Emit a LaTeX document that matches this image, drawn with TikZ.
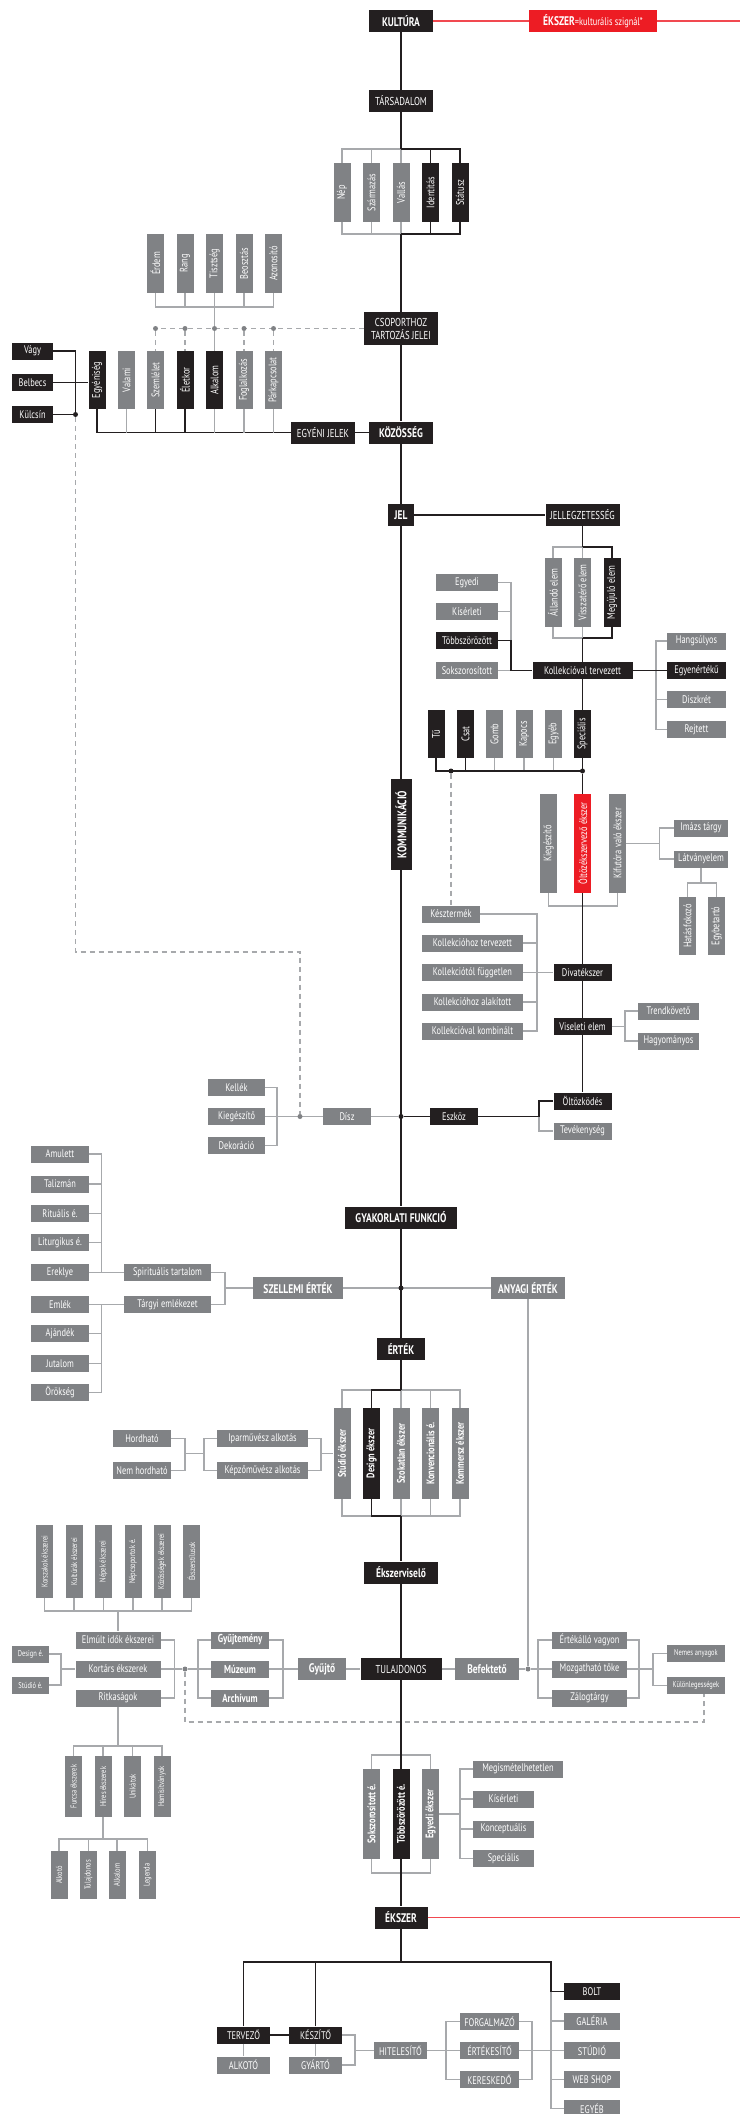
\documentclass[tikz,border=0pt]{standalone}
\usepackage{fontspec}
\setmainfont[FakeStretch=0.76]{PT Sans}
\usepackage{graphicx}

\definecolor{ink}{HTML}{231F20}
\definecolor{boxgray}{HTML}{808285}
\definecolor{linegray}{HTML}{A7A9AC}
\definecolor{signred}{HTML}{ED1C24}

\tikzset{
  box/.style={inner sep=0pt, minimum height=17pt, text=white, font=\fontsize{11}{12}\selectfont},
  blk/.style={box, fill=ink},
  gry/.style={box, fill=boxgray},
  hdr/.style={box, fill=ink, minimum height=22pt, font=\bfseries\fontsize{12.5}{13}\selectfont},
  ghdr/.style={hdr, fill=boxgray},
  capbox/.style={box, fill=ink, minimum height=22pt, font=\fontsize{11.5}{13}\selectfont},
  vbox/.style={box, minimum width=17pt},
  small/.style={font=\fontsize{8.5}{9}\selectfont},
  ln/.style={draw=ink, line width=1.8pt},
  gln/.style={draw=linegray, line width=1.2pt},
  dln/.style={gln, dash pattern=on 5pt off 4pt},
  rln/.style={draw=signred!80, line width=1.4pt},
  dot/.style={circle, inner sep=0pt, minimum size=5pt}
}
\newcommand{\vt}[1]{\rotatebox{90}{#1}}

\begin{document}
\begin{tikzpicture}[x=1pt,y=-1pt]
\useasboundingbox (0,0) rectangle (740,2114);

% main column
\node[hdr, minimum width=64pt] (kultura) at (401,21) {KULTÚRA};
\node[box, fill=signred, minimum width=128pt, minimum height=22pt, font=\fontsize{11}{12}\selectfont] (szignal) at (593,21) {{\bfseries\fontsize{12.5}{13}\selectfont ÉKSZER}=kulturális szignál*};
\coordinate (redR) at (740,21);
\node[capbox, minimum width=64pt] (tarsadalom) at (401,101) {TÁRSADALOM};
\node[capbox, minimum width=74pt, minimum height=33pt, align=center] (csoport) at (401,328.5) {CSOPORTHOZ\\TARTOZÁS JELEI};
\node[capbox, minimum width=64pt] (egyeni) at (323,432.5) {EGYÉNI JELEK};
\node[hdr, minimum width=64pt] (kozosseg) at (401,432.5) {KÖZÖSSÉG};
\node[hdr, minimum width=26pt] (jel) at (401,515) {JEL};
\node[capbox, minimum width=74pt] (jelleg) at (582.5,515) {JELLEGZETESSÉG};
\node[hdr, minimum width=21pt, minimum height=91pt] (kommunikacio) at (401,824.5) {\vt{KOMMUNIKÁCIÓ}};
\node[hdr, minimum width=112pt] (gyakorlati) at (401,1217.5) {GYAKORLATI FUNKCIÓ};
\node[ghdr, minimum width=90pt] (szellemi) at (298,1288) {SZELLEMI ÉRTÉK};
\node[ghdr, minimum width=74pt] (anyagi) at (528,1288) {ANYAGI ÉRTÉK};
\node[hdr, minimum width=48pt] (ertek) at (401,1349) {ÉRTÉK};
\node[hdr, minimum width=74pt] (ekszerviselo) at (401,1572.5) {Ékszerviselő};
\node[capbox, minimum width=81pt] (tulajdonos) at (401,1669) {TULAJDONOS};
\node[ghdr, minimum width=48pt] (gyujto) at (322,1669) {Gyűjtő};
\node[ghdr, minimum width=64pt] (befekteto) at (487,1669) {Befektető};
\node[hdr, minimum width=53pt] (ekszer) at (401,1917.5) {ÉKSZER};
\coordinate (redR2) at (740,1917.5);

\draw[rln] (kultura.east) -- (szignal.west);
\draw[rln] (szignal.east) -- (redR);
\draw[rln] (ekszer.east) -- (redR2);

% tarsadalom
\foreach \x/\t/\c [count=\i] in {342/Nép/boxgray, 371.5/Származás/boxgray, 401/Vallás/boxgray, 430.5/Identitás/ink, 460/Státusz/ink}
{
  \node[vbox, fill=\c, minimum height=59pt] (tars\i) at (\x,192.5) {\vt{\t}};
}
\coordinate (tarsT) at (0,149);
\coordinate (tarsB) at (0,234);
\draw[gln] (tars3.north |- tarsT) -| (tars1.north);
\draw[gln] (tars3.south |- tarsB) -| (tars1.south);
\foreach \i in {2,3}
{
  \draw[gln] (tars\i.north) -- (tars\i.north |- tarsT);
  \draw[gln] (tars\i.south) -- (tars\i.south |- tarsB);
}
\draw[ln] (tars3.north |- tarsT) -| (tars5.north);
\draw[ln] (tars3.south |- tarsB) -| (tars5.south);
\draw[ln] (tars4.north) -- (tars4.north |- tarsT);
\draw[ln] (tars4.south) -- (tars4.south |- tarsB);

\draw[ln] (kultura) -- (tarsadalom);
\draw[ln] (tarsadalom) -- (tars3.north |- tarsT);
\draw[ln] (tars3.south |- tarsB) -- (csoport);
\draw[ln] (csoport) -- (kozosseg);
\draw[ln] (kozosseg) -- (jel);
\draw[ln] (jel) -- (kommunikacio);
\draw[ln] (kommunikacio) -- (gyakorlati);
\draw[ln] (ekszerviselo) -- (tulajdonos);

% rang
\foreach \x/\t [count=\i] in {155.5/Érdem, 185/Rang, 214.5/Tisztség, 244/Beosztás, 273.5/Azonosító}
{
  \node[vbox, gry, minimum height=59pt] (rang\i) at (\x,263.5) {\vt{\t}};
}
\coordinate (rangB) at (0,307);
\draw[gln] (rang1.south) |- (rang5.south |- rangB) -- (rang5.south);
\foreach \i in {2,3,4}
{
  \draw[gln] (rang\i.south) -- (rang\i.south |- rangB);
}

% egyeni jelek
\foreach \x/\t/\c [count=\i] in {97/Egyéniség/ink, 126.5/Valami/boxgray, 155.5/Szemlélet/boxgray, 185/Életkor/ink, 214.5/Alkalom/ink, 244/Foglalkozás/boxgray, 273.5/Párkapcsolat/boxgray}
{
  \node[vbox, fill=\c, minimum height=58pt] (ind\i) at (\x,380) {\vt{\t}};
}
\draw[gln] (rang3.south) -- (ind5.north);
\draw[dln] (csoport.west) -- (ind3.north |- csoport.west);
\foreach \i in {3,4,5,6,7}
{
  \node[dot, fill=boxgray] (cd\i) at (ind\i.north |- csoport.west) {};
}
\foreach \i in {3,4,6,7}
{
  \draw[dln] (cd\i) -- (ind\i.north);
}
\draw[ln] (ind1.south) |- (egyeni.west);
\foreach \i in {3,4}
{
  \draw[ln] (ind\i.south) -- (ind\i.south |- egyeni.west);
}
\foreach \i in {2,5,6,7}
{
  \draw[gln] (ind\i.south) -- (ind\i.south |- egyeni.west);
}
\draw[ln] (egyeni.east) -- (kozosseg.west);

\node[blk, minimum width=41pt] (vagy) at (32.5,351) {Vágy};
\node[blk, minimum width=41pt] (belbecs) at (32.5,382.5) {Belbecs};
\node[blk, minimum width=41pt] (kulcsin) at (32.5,414.5) {Külcsín};
\node[dot, fill=ink] (kdot) at (75.5,414.5) {};
\draw[ln] (vagy.east) -| (kdot);
\draw[ln] (kdot) -- (kulcsin.east);
\draw[ln] (belbecs.east) -- (ind1.west |- belbecs.east);

% jel
\draw[ln] (jel.east) -- (jelleg.west);
\foreach \x/\t/\c [count=\i] in {553/Állandó elem/boxgray, 582.5/Visszatérő elem/boxgray, 612/Megújuló elem/ink}
{
  \node[vbox, fill=\c, minimum height=69pt] (elem\i) at (\x,592.5) {\vt{\t}};
}
\coordinate (elemT) at (0,547);
\coordinate (elemB) at (0,638);
\draw[gln] (elem2.north |- elemT) -| (elem1.north);
\draw[gln] (elem2.south |- elemB) -| (elem1.south);
\draw[gln] (elem2.north) -- (elem2.north |- elemT);
\draw[gln] (elem2.south) -- (elem2.south |- elemB);
\draw[ln] (elem2.north |- elemT) -| (elem3.north);
\draw[ln] (elem2.south |- elemB) -| (elem3.south);
\draw[ln] (jelleg) -- (elem2.north |- elemT);

\node[blk, minimum width=100pt] (kollekcio) at (582.5,670.5) {Kollekcióval tervezett};
\draw[ln] (elem2.south |- elemB) -- (kollekcio);

\foreach \y/\t/\c [count=\i] in {582.5/Egyedi/boxgray, 611.5/Kísérleti/boxgray, 640.5/Többszörözött/ink, 670.5/Sokszorosított/boxgray}
{
  \node[box, fill=\c, minimum width=62pt] (gyart\i) at (467,\y) {\t};
}
\coordinate (gyaX) at (511,0);
\draw[gln] (gyart1.east) -| (gyaX |- gyart3.east);
\draw[gln] (gyart2.east) -- (gyart2.east -| gyaX);
\draw[gln] (gyart4.east) -- (kollekcio.west);
\draw[ln] (gyart3.east) -| (gyaX |- kollekcio.west) -- (kollekcio.west);

\foreach \y/\t/\c [count=\i] in {641/Hangsúlyos/boxgray, 670.5/Egyenértékű/ink, 699.5/Diszkrét/boxgray, 729.5/Rejtett/boxgray}
{
  \node[box, fill=\c, minimum width=59pt] (hang\i) at (696.5,\y) {\t};
}
\coordinate (hanX) at (656,0);
\draw[gln] (hang1.west) -| (hanX |- hang4.west) -- (hang4.west);
\draw[gln] (hang3.west) -- (hang3.west -| hanX);
\draw[ln] (kollekcio.east) -- (hang2.west);

% kellek
\foreach \x/\t/\c [count=\i] in {436/Tű/ink, 465.5/Csat/ink, 494.5/Gomb/boxgray, 524/Kapocs/boxgray, 553.5/Egyéb/boxgray, 582.5/Speciális/ink}
{
  \node[vbox, fill=\c, minimum height=48pt] (kell\i) at (\x,734) {\vt{\t}};
}
\coordinate (kellB) at (0,771);
\draw[ln] (kollekcio) -- (kell6);
\foreach \i in {3,4,5}
{
  \draw[gln] (kell\i.south) -- (kell\i.south |- kellB);
}
\draw[ln] (kell1.south) |- (kell6.south |- kellB) -- (kell6.south);
\draw[ln] (kell2.south) -- (kell2.south |- kellB);
\node[dot, fill=ink] (kd1) at (451,771) {};
\node[dot, fill=ink] (kd2) at (kell6.south |- kellB) {};

% oltozek
\foreach \x/\t/\c [count=\i] in {548.5/Kiegészítő/boxgray, 582.5/Öltözékszervező ékszer/signred, 617.5/Kifutóra való ékszer/boxgray}
{
  \node[vbox, fill=\c, minimum height=99pt] (olt\i) at (\x,843.5) {\vt{\t}};
}
\coordinate (oltB) at (0,906);
\draw[gln] (olt1.south) |- (olt3.south |- oltB) -- (olt3.south);
\draw[ln] (kd2) -- (olt2);

\node[gry, minimum width=54pt] (imazs) at (701,828) {Imázs tárgy};
\node[gry, minimum width=54pt] (latvany) at (701,859) {Látványelem};
\coordinate (kifX) at (659.5,0);
\draw[gln] (olt3.east) -- (kifX |- olt3.east);
\draw[gln] (imazs.west) -| (kifX |- latvany.west) -- (latvany.west);
\node[vbox, gry, minimum height=58pt] (hatas) at (687.5,926) {\vt{Hatásfokozó}};
\node[vbox, gry, minimum height=58pt] (egybe) at (716.5,926) {\vt{Egybetartó}};
\coordinate (latB) at (0,883);
\draw[gln] (latvany.south) -- (latvany.south |- latB);
\draw[gln] (hatas.north) |- (egybe.north |- latB) -- (egybe.north);

% divatekszer
\node[gry, minimum width=58pt] (keszt) at (451,914) {Késztermék};
\draw[dln] (kd1) -- (kd1 |- keszt.north);
\foreach \y/\t [count=\i] in {943/Kollekcióhoz tervezett, 972.5/Kollekciótól független, 1002/Kollekcióhoz alakított, 1031/Kollekcióval kombinált}
{
  \node[gry, minimum width=101pt] (koll\i) at (472.5,\y) {\t};
}
\node[blk, minimum width=58pt] (divat) at (582.5,972.5) {Divatékszer};
\node[blk, minimum width=58pt] (viseleti) at (582.5,1026.5) {Viseleti elem};
\coordinate (kolX) at (537,0);
\draw[gln] (keszt.east) -| (kolX |- koll4.east) -- (koll4.east);
\foreach \i in {1,2,3}
{
  \draw[gln] (koll\i.east) -- (koll\i.east -| kolX);
}
\draw[gln] (koll2.east -| kolX) -- (divat.west);
\draw[ln] (olt2) -- (divat);
\draw[ln] (divat) -- (viseleti);

\node[gry, minimum width=61pt] (trend) at (668.5,1011) {Trendkövető};
\node[gry, minimum width=61pt] (hagyom) at (668.5,1041) {Hagyományos};
\coordinate (traX) at (625,0);
\draw[gln] (viseleti.east) -- (traX |- viseleti.east);
\draw[gln] (trend.west) -| (traX |- hagyom.west) -- (hagyom.west);

% eszkoz
\node[blk, minimum width=58pt] (oltozkodes) at (582.5,1101) {Öltözködés};
\node[gry, minimum width=58pt] (tevekenyseg) at (582.5,1131) {Tevékenység};
\node[blk, minimum width=48pt] (eszkoz) at (454,1116.5) {Eszköz};
\node[gry, minimum width=48pt] (disz) at (347,1116.5) {Dísz};
\draw[ln] (viseleti) -- (oltozkodes);
\coordinate (eszX) at (539,0);
\draw[gln] (eszX |- eszkoz.east) |- (tevekenyseg.west);
\draw[ln] (eszkoz.east) -| (eszX |- oltozkodes.west) -- (oltozkodes.west);
\node[dot, fill=ink] (kdot2) at (401,1116.5) {};
\draw[gln] (disz.east) -- (kdot2);
\draw[ln] (kdot2) -- (eszkoz.west);

\node[gry, minimum width=57pt] (kellek) at (236.5,1087.5) {Kellék};
\node[gry, minimum width=57pt] (kieg) at (236.5,1116.5) {Kiegészítő};
\node[gry, minimum width=57pt] (dekor) at (236.5,1145.5) {Dekoráció};
\coordinate (kelX) at (277,0);
\draw[gln] (kellek.east) -| (kelX |- dekor.east) -- (dekor.east);
\draw[gln] (kieg.east) -- (disz.west);
\node[dot, fill=boxgray] (diszdot) at (300,1116.5) {};
\coordinate (dd1) at (75.5,952);
\coordinate (dd2) at (300,952);
\draw[dln] (kdot) -- (dd1) -- (dd2) -- (diszdot);

% szellemi ertek
\foreach \y/\t [count=\i] in {1154/Amulett, 1184/Talizmán, 1213.5/Rituális é., 1242.5/Liturgikus é., 1272.5/Ereklye}
{
  \node[gry, minimum width=58pt] (spir\i) at (60,\y) {\t};
}
\foreach \y/\t [count=\i] in {1304.5/Emlék, 1333.5/Ajándék, 1363.5/Jutalom, 1392.5/Örökség}
{
  \node[gry, minimum width=58pt] (targy\i) at (60,\y) {\t};
}
\node[gry, minimum width=87pt] (spirit) at (167.5,1272.5) {Spirituális tartalom};
\node[gry, minimum width=87pt] (targyi) at (167.5,1304.5) {Tárgyi emlékezet};
\coordinate (spiX) at (101.5,0);
\draw[gln] (spir1.east) -| (spiX |- spir5.east);
\draw[gln] (spiX |- targy1.east) |- (targy4.east);
\foreach \i in {2,3,4}
{
  \draw[gln] (spir\i.east) -- (spir\i.east -| spiX);
}
\foreach \i in {2,3}
{
  \draw[gln] (targy\i.east) -- (targy\i.east -| spiX);
}
\draw[gln] (spir5.east) -- (spirit.west);
\draw[gln] (targy1.east) -- (targyi.west);
\coordinate (stX) at (225,0);
\draw[gln] (spirit.east) -| (stX |- targyi.east) -- (targyi.east);
\draw[gln] (stX |- szellemi.west) -- (szellemi.west);
\draw[gln] (szellemi.east) -- (anyagi.west);
\draw[ln] (gyakorlati) -- (ertek);
\node[dot, fill=ink] (edot) at (401,1288) {};

% ertek
\foreach \x/\t/\c [count=\i] in {342/Stúdió ékszer/boxgray, 371.5/Design ékszer/ink, 401/Szokatlan ékszer/boxgray, 430.5/Konvencionális é./boxgray, 460/Kommersz ékszer/boxgray}
{
  \node[vbox, fill=\c, minimum height=91pt, font=\bfseries\fontsize{11}{12}\selectfont] (ert\i) at (\x,1453.5) {\vt{\t}};
}
\coordinate (ertT) at (0,1390);
\coordinate (ertB) at (0,1516);
\draw[gln] (ert3.north |- ertT) -| (ert5.north);
\draw[gln] (ert3.south |- ertB) -| (ert5.south);
\draw[gln] (ert3.north |- ertT) -| (ert1.north);
\draw[gln] (ert3.south |- ertB) -| (ert1.south);
\foreach \i in {3,4}
{
  \draw[gln] (ert\i.north) -- (ert\i.north |- ertT);
  \draw[gln] (ert\i.south) -- (ert\i.south |- ertB);
}
\draw[ln] (ert3.north |- ertT) -| (ert2.north);
\draw[ln] (ert3.south |- ertB) -| (ert2.south);
\draw[ln] (ertek) -- (ert3.north |- ertT);
\draw[ln] (ert3.south |- ertB) -- (ekszerviselo);

\node[gry, minimum width=58pt] (hordhato) at (142,1438.5) {Hordható};
\node[gry, minimum width=58pt] (nemhord) at (142,1470.5) {Nem hordható};
\node[gry, minimum width=91pt] (iparmuv) at (262.5,1438.5) {Iparművész alkotás};
\node[gry, minimum width=91pt] (kepzo) at (262.5,1470.5) {Képzőművész alkotás};
\coordinate (hoX1) at (185,0);
\coordinate (hoX2) at (204,0);
\coordinate (hoX3) at (321,0);
\draw[gln] (hordhato.east) -| (hoX1 |- nemhord.east) -- (nemhord.east);
\draw[gln] (hoX1 |- ert1.west) -- (hoX2 |- ert1.west);
\draw[gln] (iparmuv.west) -| (hoX2 |- kepzo.west) -- (kepzo.west);
\draw[gln] (iparmuv.east) -| (hoX3 |- kepzo.east) -- (kepzo.east);
\draw[gln] (hoX3 |- ert1.west) -- (ert1.west);

% gyujto
\foreach \x/\t [count=\i] in {44.5/Korszakok ékszerei, 74/Kultúrák ékszerei, 103.5/Népek ékszerei, 133/Népcsoportok é., 162/Közösségek ékszerei, 191.5/Ékszerstílusok}
{
  \node[vbox, gry, minimum height=73pt, small] (kor\i) at (\x,1561.5) {\vt{\t}};
}
\node[gry, minimum width=85pt] (elmult) at (118,1640) {Elmúlt idők ékszerei};
\node[gry, minimum width=85pt] (kortars) at (118,1669) {Kortárs ékszerek};
\node[gry, minimum width=85pt] (ritka) at (118,1698) {Ritkaságok};
\coordinate (korB) at (0,1611);
\draw[gln] (kor1.south) |- (kor6.south |- korB) -- (kor6.south);
\foreach \i in {2,3,4,5}
{
  \draw[gln] (kor\i.south) -- (kor\i.south |- korB);
}
\draw[gln] (elmult.north |- korB) -- (elmult.north);

\node[gry, minimum width=37pt, small] (designe) at (30.5,1654) {Design é.};
\node[gry, minimum width=37pt, small] (studioe) at (30.5,1685) {Stúdió é.};
\coordinate (deX) at (61,0);
\draw[gln] (designe.east) -| (deX |- studioe.east) -- (studioe.east);
\draw[gln] (deX |- kortars.west) -- (kortars.west);
\coordinate (elX) at (174.5,0);
\draw[gln] (elmult.east) -| (elX |- ritka.east) -- (ritka.east);

\node[gry, minimum width=58pt, font=\bfseries\fontsize{11.5}{12}\selectfont] (gyujtemeny) at (240,1640) {Gyűjtemény};
\node[gry, minimum width=58pt, font=\bfseries\fontsize{11.5}{12}\selectfont] (muzeum) at (240,1669) {Múzeum};
\node[gry, minimum width=58pt, font=\bfseries\fontsize{11.5}{12}\selectfont] (archivum) at (240,1698) {Archívum};
\node[dot, fill=boxgray] (kdot3) at (185,1669) {};
\coordinate (gyuX) at (198,0);
\coordinate (gyuX2) at (283,0);
\draw[gln] (kortars.east) -- (kdot3);
\draw[gln] (kdot3) -- (muzeum.west);
\draw[gln] (gyujtemeny.west) -| (gyuX |- archivum.west) -- (archivum.west);
\draw[gln] (gyujtemeny.east) -| (gyuX2 |- archivum.east) -- (archivum.east);
\draw[gln] (muzeum.east) -- (gyujto.west);
\draw[gln] (gyujto.east) -- (tulajdonos.west);
\draw[gln] (tulajdonos.east) -- (befekteto.west);

% befekteto
\node[dot, fill=boxgray] (bdot) at (528,1669) {};
\draw[gln] (anyagi.south) -- (bdot);
\node[gry, minimum width=75pt] (ertekallo) at (589.5,1640) {Értékálló vagyon};
\node[gry, minimum width=75pt] (mozgathato) at (589.5,1669) {Mozgatható tőke};
\node[gry, minimum width=75pt] (zalog) at (589.5,1698) {Zálogtárgy};
\draw[gln] (befekteto.east) -- (bdot);
\draw[gln] (bdot) -- (mozgathato.west);
\coordinate (beX) at (538,0);
\coordinate (beX2) at (639,0);
\draw[gln] (ertekallo.west) -| (beX |- zalog.west) -- (zalog.west);
\draw[gln] (ertekallo.east) -| (beX2 |- zalog.east) -- (zalog.east);
\node[gry, minimum width=58pt, small] (nemes) at (696,1653.5) {Nemes anyagok};
\node[gry, minimum width=58pt, small] (kulonleges) at (696,1685.5) {Különlegességek};
\coordinate (nemX) at (653,0);
\draw[gln] (mozgathato.east) -- (nemX |- mozgathato.east);
\draw[gln] (nemes.west) -| (nemX |- kulonleges.west) -- (kulonleges.west);
\coordinate (dl1) at (185,1722);
\coordinate (dl2) at (704,1722);
\draw[dln] (kdot3) -- (dl1) -- (dl2) -- (dl2 |- kulonleges.south);

% ritkasagok
\foreach \x/\t [count=\i] in {73.5/Furcsa ékszerek, 103/Híres ékszerek, 132.5/Unikátok, 162/Hamisítványok}
{
  \node[vbox, gry, minimum height=61pt, small] (rit\i) at (\x,1786.5) {\vt{\t}};
}
\coordinate (ritT) at (0,1746);
\draw[gln] (ritka.south) -- (ritka.south |- ritT);
\draw[gln] (rit1.north) |- (rit4.north |- ritT) -- (rit4.north);
\foreach \i in {2,3}
{
  \draw[gln] (rit\i.north) -- (rit\i.north |- ritT);
}
\foreach \x/\t [count=\i] in {59/Alkotó, 88.5/Tulajdonos, 117/Alkalom, 147.5/Legenda}
{
  \node[vbox, gry, minimum height=48pt, small] (hir\i) at (\x,1875) {\vt{\t}};
}
\coordinate (hirT) at (0,1839);
\draw[gln] (rit2.south) -- (rit2.south |- hirT);
\draw[gln] (hir1.north) |- (hir4.north |- hirT) -- (hir4.north);
\foreach \i in {2,3}
{
  \draw[gln] (hir\i.north) -- (hir\i.north |- hirT);
}

% tulajdonos
\foreach \x/\t/\c [count=\i] in {371.5/Sokszorosított é./boxgray, 401/Többszörözött é./ink, 430.5/Egyedi ékszer/boxgray}
{
  \node[vbox, fill=\c, minimum height=90pt, font=\bfseries\fontsize{11}{12}\selectfont] (tul\i) at (\x,1814) {\vt{\t}};
}
\coordinate (tulT) at (0,1755);
\coordinate (tulB) at (0,1873);
\draw[gln] (tul1.north) |- (tul3.north |- tulT) -- (tul3.north);
\draw[gln] (tul1.south) |- (tul3.south |- tulB) -- (tul3.south);
\draw[ln] (tulajdonos) -- (tul2.north);
\draw[ln] (tul2.south) -- (ekszer);

\node[gry, minimum width=90pt] (megism) at (518,1769) {Megismételhetetlen};
\node[gry, minimum width=61pt] (kiserl) at (503.5,1799) {Kísérleti};
\node[gry, minimum width=61pt] (koncept) at (503.5,1829) {Konceptuális};
\node[gry, minimum width=61pt] (spec) at (503.5,1858.5) {Speciális};
\coordinate (tuX) at (460,0);
\draw[gln] (megism.west) -| (tuX |- spec.west) -- (spec.west);
\draw[gln] (kiserl.west) -- (kiserl.west -| tuX);
\draw[gln] (koncept.west) -- (koncept.west -| tuX);
\draw[gln] (tul3.east) -- (tuX |- tul3.east);

% ekszer
\node[blk, minimum width=53pt] (tervezo) at (243.5,2035) {TERVEZŐ};
\node[blk, minimum width=53pt] (keszito) at (315.5,2035) {KÉSZÍTŐ};
\node[gry, minimum width=53pt] (alkoto) at (243.5,2065) {ALKOTÓ};
\node[gry, minimum width=53pt] (gyarto) at (315.5,2065) {GYÁRTÓ};
\node[gry, minimum width=53pt] (hitelesito) at (400.5,2050.5) {HITELESÍTŐ};
\node[gry, minimum width=59pt] (forgalmazo) at (489.5,2021.5) {FORGALMAZÓ};
\node[gry, minimum width=59pt] (ertekesito) at (489.5,2050.5) {ÉRTÉKESÍTŐ};
\node[gry, minimum width=59pt] (kereskedo) at (489.5,2079.5) {KERESKEDŐ};
\node[blk, minimum width=56pt] (bolt) at (592,1991.5) {BOLT};
\node[gry, minimum width=56pt] (galeria) at (592,2021) {GALÉRIA};
\node[gry, minimum width=56pt] (studio) at (592,2050.5) {STÚDIÓ};
\node[gry, minimum width=56pt] (webshop) at (592,2079.5) {WEB SHOP};
\node[gry, minimum width=56pt] (egyeb) at (592,2108.5) {EGYÉB};

\coordinate (botB) at (0,1962);
\coordinate (bolX) at (551,0);
\draw[gln] (bolX |- bolt.west) |- (egyeb.west);
\foreach \n in {galeria,studio,webshop}
{
  \draw[gln] (\n.west) -- (\n.west -| bolX);
}
\draw[ln] (tervezo.north) |- (bolX |- botB) |- (bolt.west);
\draw[ln] (keszito.north) -- (keszito.north |- botB);
\draw[ln] (ekszer) -- (ekszer.south |- botB);
\draw[ln] (tervezo.east) -- (keszito.west);
\draw[gln] (tervezo.south) -- (alkoto.north);
\draw[gln] (keszito.south) -- (gyarto.north);
\coordinate (keX) at (355,0);
\draw[gln] (keszito.east) -| (keX |- gyarto.east) -- (gyarto.east);
\draw[gln] (keX |- hitelesito.west) -- (hitelesito.west);
\coordinate (foX) at (446,0);
\coordinate (foX2) at (532,0);
\draw[gln] (hitelesito.east) -- (ertekesito.west);
\draw[gln] (forgalmazo.west) -| (foX |- kereskedo.west) -- (kereskedo.west);
\draw[gln] (forgalmazo.east) -| (foX2 |- kereskedo.east) -- (kereskedo.east);
\draw[gln] (ertekesito.east) -- (studio.west);

\end{tikzpicture}
\end{document}
